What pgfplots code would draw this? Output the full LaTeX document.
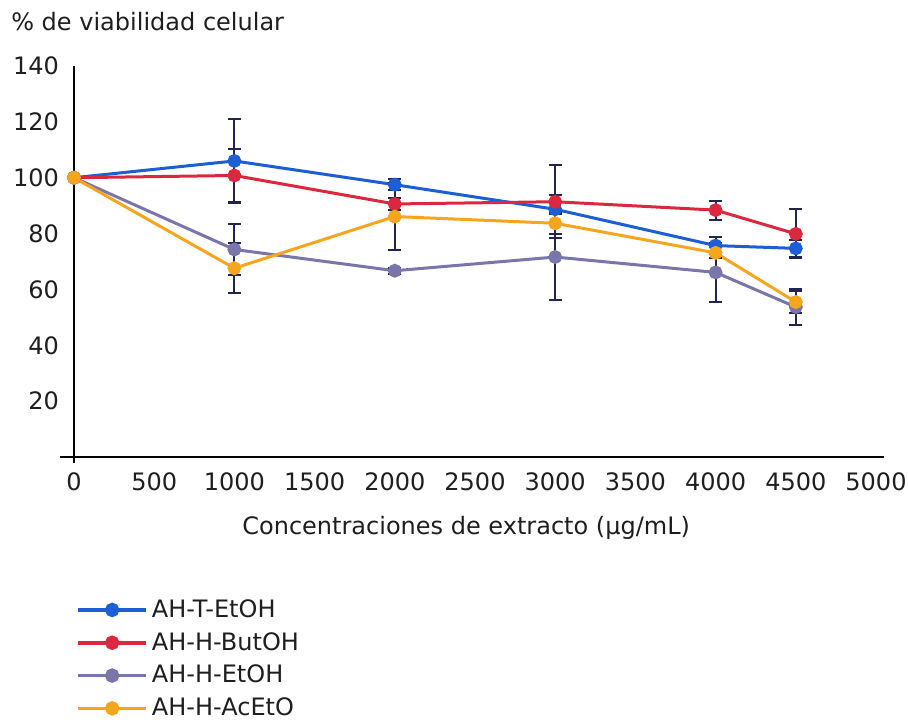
\documentclass[border=0pt]{standalone}
\usepackage{fontspec}
\setmainfont{DejaVu Sans}
\usepackage{pgfplots}
\pgfplotsset{compat=1.18}
\usepackage{pgfplotstable}

\definecolor{cblue}{RGB}{28,94,212}
\definecolor{cred}{RGB}{220,40,62}
\definecolor{cpurple}{RGB}{122,117,170}
\definecolor{corange}{RGB}{246,166,30}
\definecolor{cerr}{RGB}{35,35,80}
\definecolor{ctext}{RGB}{30,30,30}

\pgfplotstableread{
x y e
0 100 0
1000 106 15
2000 97.5 2
3000 88.7 5
4000 75.7 3
4500 74.7 3
}\blue
\pgfplotstableread{
x y e
0 100 0
1000 100.8 9.5
2000 90.6 2
3000 91.4 13
4000 88.4 3.4
4500 79.9 8.8
}\red
\pgfplotstableread{
x y e
0 100 0
1000 74.3 9.3
2000 66.7 1
3000 71.6 15.4
4000 66.1 10.5
4500 53.7 6.4
}\purple
\pgfplotstableread{
x y e
0 100 0
1000 67.6 9
2000 86.1 12
3000 83.7 4
4000 73.1 2
4500 55.5 4
}\orange

\begin{document}
\begin{tikzpicture}
\path[use as bounding box] (0,0) rectangle (454pt,362pt);
\begin{axis}[
  at={(37pt,133.5pt)}, anchor=south west,
  scale only axis, width=401pt, height=195.5pt,
  xmin=0, xmax=5000, ymin=0, ymax=140,
  axis lines*=left,
  axis line style={line width=1.3pt, black},
  x axis line style={shorten <=-7pt, shorten >=-4pt},
  y axis line style={shorten <=-3pt},
  major tick length=0pt,
  xtick={0,500,1000,1500,2000,2500,3000,3500,4000,4500,5000},
  xticklabels={0,500,1000,1500,2000,2500,3000,3500,4000,4500,5000},
  ytick={20,40,60,80,100,120,140},
  yticklabels={20,40,60,80,100,120,140},
  font=\fontsize{12}{14}\selectfont,
  every tick label/.append style={text=ctext},
  xticklabel style={anchor=center, yshift=-12.5pt},
  yticklabel style={anchor=east, xshift=-4pt},
  xlabel={Concentraciones de extracto (µg/mL)},
  xlabel style={at={(axis description cs:0.489,-0.182)}, anchor=center, text=ctext},
  title={\% de viabilidad celular},
  title style={at={(axis description cs:-0.087,1.082)}, anchor=west, text=ctext},
  clip=false,
  every axis plot/.append style={line width=1.5pt},
  error bars/error bar style={line width=1pt, cerr},
  error bars/error mark options={rotate=90, mark size=3.2pt, line width=1pt, cerr},
  legend style={at={(axis description cs:-0.005,-0.343)}, anchor=north west, draw=none, fill=none, font=\fontsize{12}{14}\selectfont, row sep=2pt, text=ctext},
  legend cell align=left,
  legend image code/.code={\draw[mark repeat=2, mark phase=2, line width=1.8pt, #1] plot coordinates {(0pt,0pt)(17pt,0pt)(34pt,0pt)};},
]
\addplot[color=cblue, mark=*, mark size=2.7pt, error bars/.cd, y dir=both, y explicit] table[x=x, y=y, y error=e] {\blue};
\addlegendentry{AH-T-EtOH}
\addplot[color=cred, mark=*, mark size=2.7pt, error bars/.cd, y dir=both, y explicit] table[x=x, y=y, y error=e] {\red};
\addlegendentry{AH-H-ButOH}
\addplot[color=cpurple, mark=*, mark size=2.7pt, error bars/.cd, y dir=both, y explicit] table[x=x, y=y, y error=e] {\purple};
\addlegendentry{AH-H-EtOH}
\addplot[color=corange, mark=*, mark size=2.7pt, error bars/.cd, y dir=both, y explicit] table[x=x, y=y, y error=e] {\orange};
\addlegendentry{AH-H-AcEtO}
\end{axis}
\end{tikzpicture}
\end{document}
